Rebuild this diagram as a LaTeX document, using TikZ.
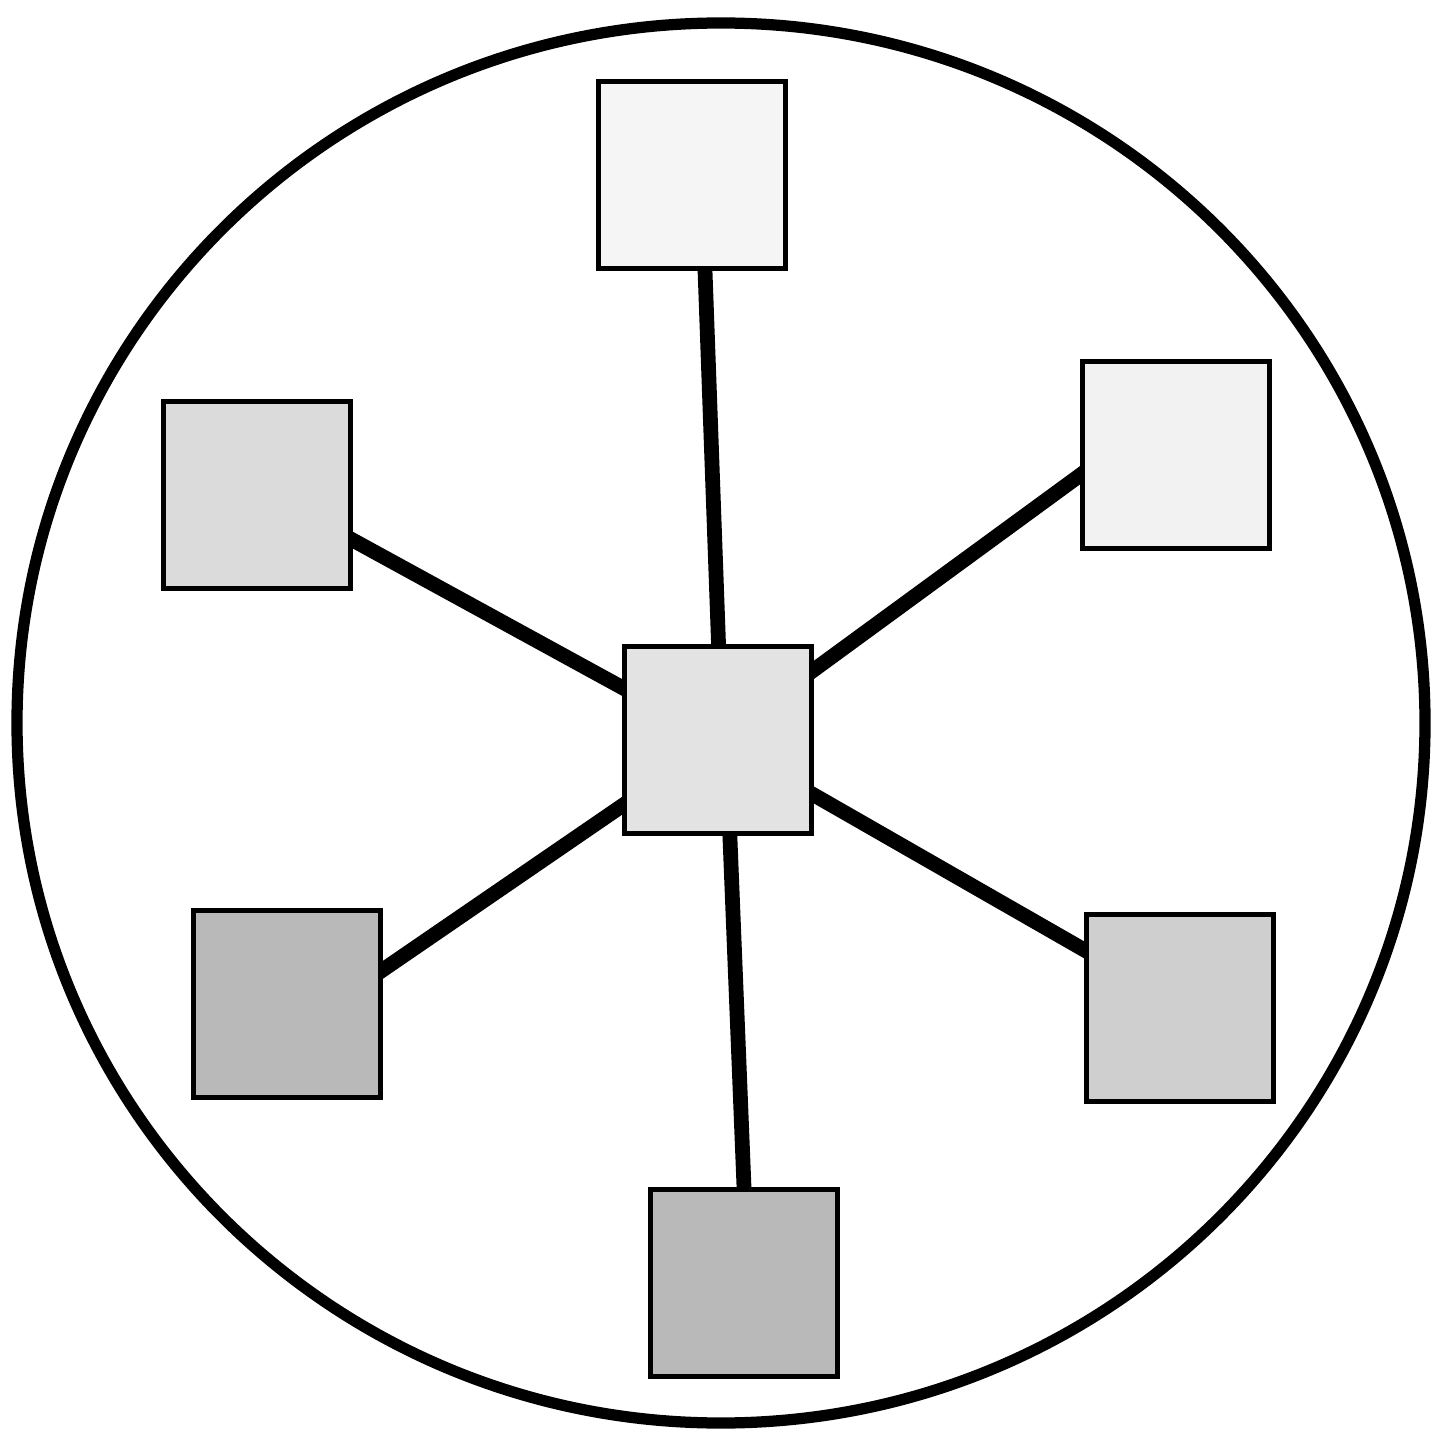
\documentclass[tikz,border=0pt]{standalone}
\usetikzlibrary{backgrounds}
\begin{document}
\begin{tikzpicture}[x=0.01cm,y=-0.01cm,
  box/.style={draw=black, line width=1.2pt, minimum size=1.87cm, inner sep=0pt, rectangle},
  link/.style={line width=4.2pt, shorten >=-6pt},
  rim/.style={line width=3.2pt}]
\useasboundingbox (0,0) rectangle (1437,1431);
\node[box, fill=gray!8]  (t)  at (692,175) {};
\node[box, fill=gray!10] (ur) at (1176,455) {};
\node[box, fill=gray!28] (ul) at (257,495) {};
\node[box, fill=gray!22] (c)  at (718,740) {};
\node[box, fill=gray!55] (ll) at (287,1004) {};
\node[box, fill=gray!38] (lr) at (1180,1008) {};
\node[box, fill=gray!55] (b)  at (744,1283) {};
\begin{scope}[on background layer]
  \draw[rim] (721,723) ellipse [x radius=704, y radius=700];
  \draw[link] ([xshift=0.04cm]c.center) -- ([xshift=0.13cm]t.south);
  \draw[link] (c.center) -- ([yshift=-0.2cm]ur.west);
  \draw[link] (c.center) -- ([yshift=-0.45cm]ul.east);
  \draw[link] (c.center) -- ([yshift=0.34cm]ll.east);
  \draw[link] (c.center) -- ([yshift=0.58cm]lr.west);
  \draw[link] ([xshift=0.08cm]c.center) -- (b.north);
\end{scope}
\end{tikzpicture}
\end{document}
